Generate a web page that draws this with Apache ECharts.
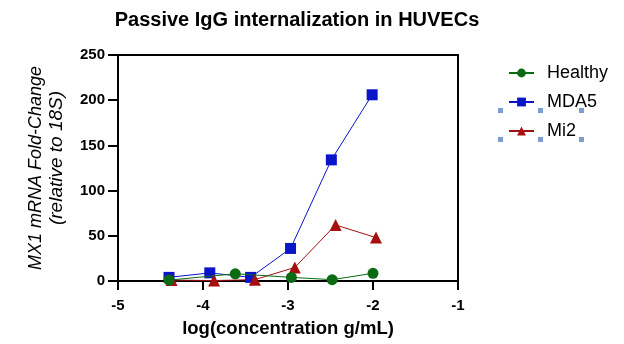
<!DOCTYPE html>
<html><head><meta charset="utf-8">
<script src="https://cdn.jsdelivr.net/npm/echarts@6/dist/echarts.min.js"></script>
<style>html,body{margin:0;padding:0;background:#fff}#c{width:624px;height:344px}</style>
</head><body><div id="c"></div>
<script>
const xTicks = [-5, -4, -3, -2, -1];
const yTicks = [0, 50, 100, 150, 200, 250];
const healthyX = [-4.4, -3.62, -2.96, -2.48, -2.0];
const healthyY = [1, 8, 4, 1.5, 8.5];
const mda5X = [-4.4, -3.92, -3.44, -2.97, -2.49, -2.01];
const mda5Y = [4, 9, 4, 36, 134, 206];
const mi2X = [-4.37, -3.87, -3.39, -2.92, -2.44, -1.965];
const mi2Y = [1, 0.5, 1.5, 15, 62, 48];
const yName1 = 'MX1 mRNA Fold-Change';
const yName2 = '(relative to 18S)';

const pair = (xs, ys) => xs.map((x, i) => [x, ys[i]]);
const font = 'Liberation Sans, Arial, sans-serif';
const chart = echarts.init(document.getElementById('c'));
const handles = [[500,110],[540,110],[581,110],[500,139],[540,139],[581,139]].map(p => ({
  type: 'rect', shape: {x: p[0]-2, y: p[1]-2, width: 5, height: 5},
  style: {fill: '#7f9cd0'}, silent: true
}));
const yNames = [
  {type: 'text', x: 36, y: 168, rotation: Math.PI / 2,
    style: {text: yName1, font: 'italic 18px ' + font, fill: '#000', textAlign: 'center', textVerticalAlign: 'middle'}},
  {type: 'text', x: 57, y: 158, rotation: Math.PI / 2,
    style: {text: yName2, font: 'italic 19px ' + font, fill: '#000', textAlign: 'center', textVerticalAlign: 'middle'}}
];
chart.setOption({
  animation: false,
  title: {text: 'Passive IgG internalization in HUVECs', left: 292, textAlign: 'center', top: 5,
    textStyle: {fontFamily: font, fontWeight: 'bold', fontSize: 20, color: '#000'}},
  grid: {left: 118, top: 55, width: 340, height: 226, show: true, borderColor: '#000', borderWidth: 2, backgroundColor: 'transparent'},
  legend: {orient: 'vertical', left: 508, top: 64, padding: 0, itemGap: 11, itemWidth: 25, itemHeight: 11,
    textStyle: {fontFamily: font, fontSize: 18, color: '#000', padding: [0, 0, 0, 8]},
    data: ['Healthy', 'MDA5', 'Mi2']},
  xAxis: {type: 'value', min: -5, max: -1, interval: 1,
    name: 'log(concentration g/mL)', nameLocation: 'middle', nameGap: 38,
    nameTextStyle: {fontFamily: font, fontWeight: 'bold', fontSize: 18.5, color: '#000'},
    axisLine: {show: true, onZero: false, lineStyle: {color: '#000', width: 2}},
    axisTick: {show: true, length: 9, lineStyle: {color: '#000', width: 2}},
    axisLabel: {fontFamily: font, fontWeight: 'bold', fontSize: 15, color: '#000', margin: 17,
      formatter: v => xTicks.includes(v) ? String(v) : ''},
    splitLine: {show: false}},
  yAxis: {type: 'value', min: 0, max: 250, interval: 50,
    axisLine: {show: true, lineStyle: {color: '#000', width: 2}},
    axisTick: {show: true, length: 10, lineStyle: {color: '#000', width: 2}},
    axisLabel: {fontFamily: font, fontWeight: 'bold', fontSize: 15, color: '#000', margin: 13,
      formatter: v => yTicks.includes(v) ? String(v) : ''},
    splitLine: {show: false}},
  series: [
    {name: 'Healthy', type: 'line', data: pair(healthyX, healthyY), symbol: 'circle', symbolSize: 11,
      color: '#0b6b12', lineStyle: {width: 1}, z: 3},
    {name: 'MDA5', type: 'line', data: pair(mda5X, mda5Y), symbol: 'rect', symbolSize: 11,
      color: '#0a14c8', lineStyle: {width: 1}, z: 2},
    {name: 'Mi2', type: 'line', data: pair(mi2X, mi2Y), symbol: 'triangle', symbolSize: 12,
      color: '#a50f0f', lineStyle: {width: 1}, z: 2}
  ],
  graphic: yNames.concat(handles)
});
</script></body></html>
